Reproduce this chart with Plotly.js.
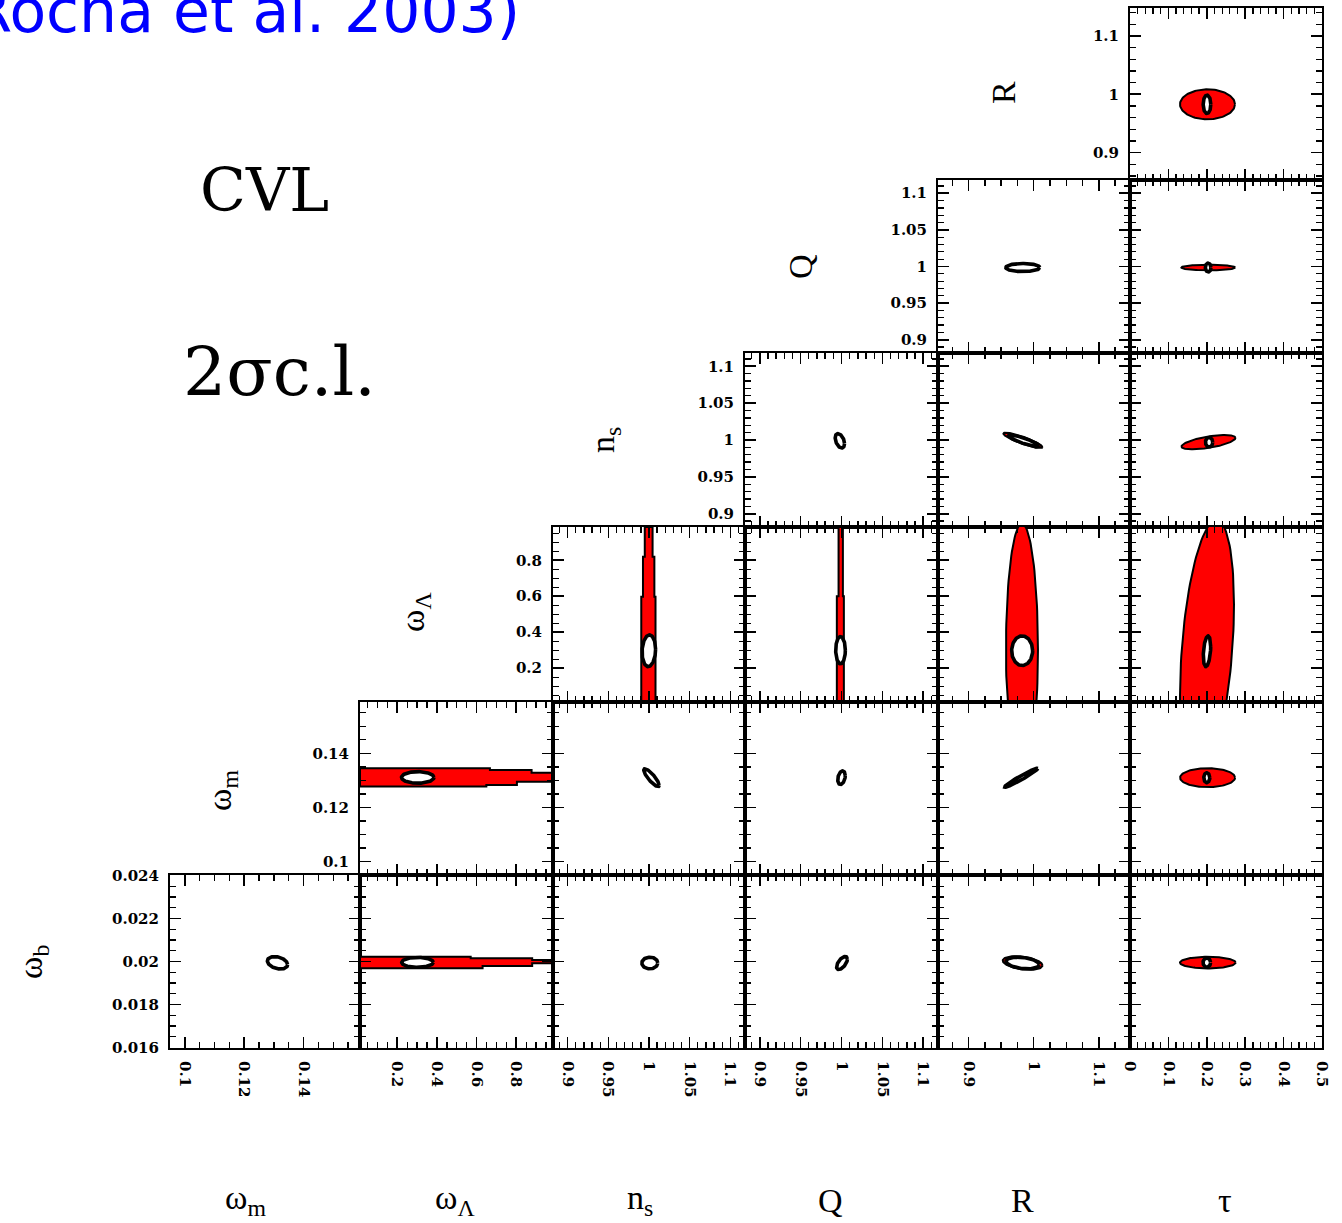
<!DOCTYPE html>
<html>
<head>
<meta charset="utf-8">
<script src="https://cdn.plot.ly/plotly-3.0.1.min.js"></script>
<style>
  html, body { margin: 0; padding: 0; background: #fff; }
  #chart { width: 1342px; height: 1223px; }
</style>
</head>
<body>
<div id="chart"></div>
<script>
// ---------------------------------------------------------------------------
// Parameters and their axis scales
// ---------------------------------------------------------------------------
const paramKeys   = ['wb', 'wm', 'wL', 'ns', 'Q', 'R', 'tau'];
const paramLabels = ['ω<sub>b</sub>', 'ω<sub>m</sub>', 'ω<sub>Λ</sub>', 'n<sub>s</sub>', 'Q', 'R', 'τ'];
const axisMin     = [0.01598, 0.095, 0.012, 0.882, 0.882, 0.853, 0];
const axisMax     = [0.02402, 0.159, 0.985, 1.118, 1.118, 1.148, 0.5];
const majorStep   = [0.002, 0.02, 0.2, 0.05, 0.05, 0.1, 0.1];
const minorStepX  = [0.0005, 0.005, 0.05, 0.01, 0.01, 0.025, 0.02];
const minorStepY  = [0.0005, 0.005, 0.05, 0.01, 0.01, 0.02, 0.02];

// grid order: columns (x parameter) left to right, rows (y parameter) top to bottom
const colParams = ['wm', 'wL', 'ns', 'Q', 'R', 'tau'];
const rowParams = ['R', 'Q', 'ns', 'wL', 'wm', 'wb'];

// ---------------------------------------------------------------------------
// Tight (CVL) 2-sigma ellipses: centre, half extent along x / y, correlation
// ---------------------------------------------------------------------------
const tightPanel = ['wm|wb', 'wL|wb', 'ns|wb', 'Q|wb', 'R|wb', 'tau|wb',
                    'wL|wm', 'ns|wm', 'Q|wm', 'R|wm', 'tau|wm',
                    'ns|wL', 'Q|wL', 'R|wL', 'tau|wL',
                    'Q|ns', 'R|ns', 'tau|ns',
                    'R|Q', 'tau|Q',
                    'tau|R'];
const tightCx   = [0.1312, 0.302, 1.001, 1.0006, 0.983, 0.2,
                   0.303, 1.003, 1.0, 0.981, 0.2,
                   0.9998, 0.9988, 0.9823, 0.2005,
                   0.998, 0.9848, 0.206,
                   0.9833, 0.2035,
                   0.2005];
const tightCy   = [0.01994, 0.01996, 0.01993, 0.01993, 0.01993, 0.01995,
                   0.1311, 0.131, 0.131, 0.131, 0.131,
                   0.297, 0.300, 0.297, 0.294,
                   0.9989, 0.9989, 0.997,
                   0.9986, 0.9986,
                   0.9828];
const tightHalfX = [0.0034, 0.0797, 0.0098, 0.0066, 0.0255, 0.0099,
                    0.0818, 0.0094, 0.0046, 0.0254, 0.0078,
                    0.0083, 0.0059, 0.0161, 0.0096,
                    0.0057, 0.0235, 0.0095,
                    0.0262, 0.0073,
                    0.0099];
const tightHalfY = [0.00029, 0.00023, 0.00027, 0.00030, 0.00027, 0.00021,
                    0.00215, 0.0033, 0.0025, 0.0035, 0.00185,
                    0.088, 0.076, 0.0825, 0.085,
                    0.0098, 0.0080, 0.0064,
                    0.0055, 0.0061,
                    0.0158];
const tightCorr = [-0.3, 0, 0, 0.6, -0.3, 0,
                   0, -0.85, 0.3, 0.97, 0,
                   0.1, 0, 0, 0.3,
                   -0.4, -0.88, 0,
                   0, 0,
                   0];

// ---------------------------------------------------------------------------
// Broad 2-sigma ellipses (red regions)
// ---------------------------------------------------------------------------
const broadPanel = ['R|wb', 'tau|wb', 'tau|wm', 'R|wL', 'tau|wL', 'R|ns', 'tau|ns', 'tau|Q', 'tau|R'];
const broadCx    = [0.983, 0.2026, 0.202, 0.982, 0.2005, 0.9835, 0.2044, 0.204, 0.2018];
const broadCy    = [0.01993, 0.01995, 0.131, 0.301, 0.301, 0.9995, 0.997, 0.9986, 0.9828];
const broadHalfX = [0.0305, 0.0724, 0.0716, 0.0246, 0.0703, 0.0300, 0.0703, 0.0703, 0.0716];
const broadHalfY = [0.00032, 0.00027, 0.0035, 0.703, 0.7228, 0.0105, 0.0097, 0.0038, 0.0257];
const broadCorr  = [-0.35, 0, 0, 0, 0.35, -0.88, 0.6, 0, 0];

// ---------------------------------------------------------------------------
// Broad regions that run across the whole ωΛ range (step-shaped contours)
// ---------------------------------------------------------------------------
// ωb against ωΛ
const bandWbLamUpEdges = [0.012, 0.57, 0.88, 0.985];
const bandWbLamUp      = [0.02022, 0.02015, 0.02007];
const bandWbLamLoEdges = [0.012, 0.63, 0.88, 0.985];
const bandWbLamLo      = [0.01969, 0.01979, 0.01992];
// ωm against ωΛ
const bandWmLamUpEdges = [0.012, 0.667, 0.877, 0.985];
const bandWmLamUp      = [0.1345, 0.1338, 0.1328];
const bandWmLamLoEdges = [0.012, 0.649, 0.803, 0.985];
const bandWmLamLo      = [0.1277, 0.1283, 0.1295];
// ωΛ against ns
const bandNsLamEdges = [0.012, 0.597, 0.82, 0.985];
const bandNsLamLeft  = [0.9905, 0.9926, 0.9948];
const bandNsLamRight = [1.008, 1.0066, 1.0044];
// ωΛ against Q
const bandQLamEdges = [0.012, 0.60, 0.985];
const bandQLamLeft  = [0.9943, 0.9964];
const bandQLamRight = [1.0029, 1.0017];

// ---------------------------------------------------------------------------
// Page geometry (pixels)
// ---------------------------------------------------------------------------
const W = 1342, H = 1223;
const colEdges = [170, 360, 553, 745, 938, 1130, 1322];
const rowEdges = [8, 180, 353, 527, 702, 875, 1048];

const bottomLabelX = [245, 455, 640, 830, 1022, 1225];
const bottomLabelY = 1200;
const sideLabelX   = [1003, 800, 605, 415, 222, 33];
const sideLabelY   = [93, 267, 440, 612, 790, 962];

// ---------------------------------------------------------------------------
// Helpers
// ---------------------------------------------------------------------------
const pIdx = k => paramKeys.indexOf(k);
const px = v => v / W;
const py = v => 1 - v / H;

function ellipse(cx, cy, hx, hy, rho, n = 120) {
  const xs = [], ys = [];
  const s = Math.sqrt(Math.max(0, 1 - rho * rho));
  for (let i = 0; i <= n; i++) {
    const t = 2 * Math.PI * i / n;
    xs.push(cx + hx * Math.cos(t));
    ys.push(cy + hy * (rho * Math.cos(t) + s * Math.sin(t)));
  }
  return { xs, ys };
}

function steps(edges, vals) {
  const a = [], b = [];
  for (let i = 0; i < vals.length; i++) {
    a.push(edges[i], edges[i + 1]);
    b.push(vals[i], vals[i]);
  }
  return { a, b };
}

// horizontal band: edges along x, levels along y
function hBand(upE, up, loE, lo) {
  const u = steps(upE, up), l = steps(loE, lo);
  const xs = u.a.concat(l.a.slice().reverse(), [u.a[0]]);
  const ys = u.b.concat(l.b.slice().reverse(), [u.b[0]]);
  return { xs, ys };
}
// vertical band: edges along y, levels along x
function vBand(edges, left, right) {
  const L = steps(edges, left), R = steps(edges, right);
  const ys = L.a.concat(R.a.slice().reverse(), [L.a[0]]);
  const xs = L.b.concat(R.b.slice().reverse(), [L.b[0]]);
  return { xs, ys };
}

// ---------------------------------------------------------------------------
// Build panels
// ---------------------------------------------------------------------------
const layout = {
  width: W, height: H,
  margin: { l: 0, r: 0, t: 0, b: 0 },
  paper_bgcolor: '#fff', plot_bgcolor: '#fff',
  showlegend: false,
  annotations: []
};
const panelAxes = {};   // "x|y" -> {xa, ya}
let k = 0;

function axisCfg(pi, domain, anchor, isX, showLabels) {
  return {
    domain, anchor,
    range: [axisMin[pi], axisMax[pi]],
    autorange: false,
    showgrid: false, zeroline: false,
    showline: true, linecolor: '#000', linewidth: 2, mirror: 'allticks',
    ticks: 'inside', ticklen: 11, tickwidth: 1.6, tickcolor: '#000',
    tick0: 0, dtick: majorStep[pi],
    minor: { dtick: isX ? minorStepX[pi] : minorStepY[pi], tick0: 0, ticks: 'inside',
             ticklen: 6, tickwidth: 1.3, tickcolor: '#000', showgrid: false },
    showticklabels: showLabels,
    tickfont: { family: 'DejaVu Serif', size: 15, color: '#000', weight: 'bold' },
    tickangle: isX ? 90 : 0,
    ticklabelstandoff: isX ? 8 : 6,
    fixedrange: true
  };
}

for (let r = 0; r < rowParams.length; r++) {
  for (let c = 5 - r; c < colParams.length; c++) {
    k++;
    const xs = k === 1 ? '' : String(k);
    const xKey = 'xaxis' + xs, yKey = 'yaxis' + xs;
    const xi = pIdx(colParams[c]), yi = pIdx(rowParams[r]);
    layout[xKey] = axisCfg(xi, [px(colEdges[c]), px(colEdges[c + 1])], 'y' + xs, true, r === rowParams.length - 1);
    layout[yKey] = axisCfg(yi, [py(rowEdges[r + 1]), py(rowEdges[r])], 'x' + xs, false, c === 5 - r);
    panelAxes[colParams[c] + '|' + rowParams[r]] = { xa: 'x' + xs, ya: 'y' + xs };
  }
}

const broadStyle = { fill: 'toself', fillcolor: '#ff0000', line: { color: '#000', width: 2 } };
const tightStyle = { fill: 'toself', fillcolor: '#ffffff', line: { color: '#000', width: 3.6 } };

const traces = [];
function addShape(panel, shp, style) {
  const ax = panelAxes[panel];
  traces.push(Object.assign({
    type: 'scatter', mode: 'lines', x: shp.xs, y: shp.ys,
    xaxis: ax.xa, yaxis: ax.ya, hoverinfo: 'skip'
  }, JSON.parse(JSON.stringify(style))));
}

// broad regions first
addShape('wL|wb', hBand(bandWbLamUpEdges, bandWbLamUp, bandWbLamLoEdges, bandWbLamLo), broadStyle);
addShape('wL|wm', hBand(bandWmLamUpEdges, bandWmLamUp, bandWmLamLoEdges, bandWmLamLo), broadStyle);
addShape('ns|wL', vBand(bandNsLamEdges, bandNsLamLeft, bandNsLamRight), broadStyle);
addShape('Q|wL',  vBand(bandQLamEdges, bandQLamLeft, bandQLamRight), broadStyle);
broadPanel.forEach((p, i) =>
  addShape(p, ellipse(broadCx[i], broadCy[i], broadHalfX[i], broadHalfY[i], broadCorr[i]), broadStyle));

// tight regions on top
tightPanel.forEach((p, i) =>
  addShape(p, ellipse(tightCx[i], tightCy[i], tightHalfX[i], tightHalfY[i], tightCorr[i]), tightStyle));

// ---------------------------------------------------------------------------
// Labels
// ---------------------------------------------------------------------------
const labelFont = { family: 'Liberation Serif', size: 34, color: '#000' };
colParams.forEach((p, i) => {
  layout.annotations.push({
    xref: 'paper', yref: 'paper', x: px(bottomLabelX[i]), y: py(bottomLabelY),
    xanchor: 'center', yanchor: 'middle', showarrow: false,
    text: paramLabels[pIdx(p)], font: labelFont
  });
});
['R', 'Q', 'ns', 'wL', 'wm', 'wb'].forEach((p, i) => {
  layout.annotations.push({
    xref: 'paper', yref: 'paper', x: px(sideLabelX[i]), y: py(sideLabelY[i]),
    xanchor: 'center', yanchor: 'middle', showarrow: false, textangle: -90,
    text: paramLabels[pIdx(p)], font: labelFont
  });
});

layout.annotations.push({
  xref: 'paper', yref: 'paper', x: px(264), y: py(190),
  xanchor: 'center', yanchor: 'middle', showarrow: false,
  text: 'CVL', font: { family: 'DejaVu Serif', size: 60, color: '#000' }
});
layout.annotations.push({
  xref: 'paper', yref: 'paper', x: px(279), y: py(372),
  xanchor: 'center', yanchor: 'middle', showarrow: false,
  text: '2σc.l.', font: { family: 'DejaVu Serif', size: 68, color: '#000' }
});
layout.annotations.push({
  xref: 'paper', yref: 'paper', x: px(522), y: py(48),
  xanchor: 'right', yanchor: 'bottom', showarrow: false,
  text: '(Rocha et al. 2003)', font: { family: 'DejaVu Sans', size: 60, color: '#0000ff' }
});

Plotly.newPlot('chart', traces, layout, { staticPlot: true, displayModeBar: false });
</script>
</body>
</html>
